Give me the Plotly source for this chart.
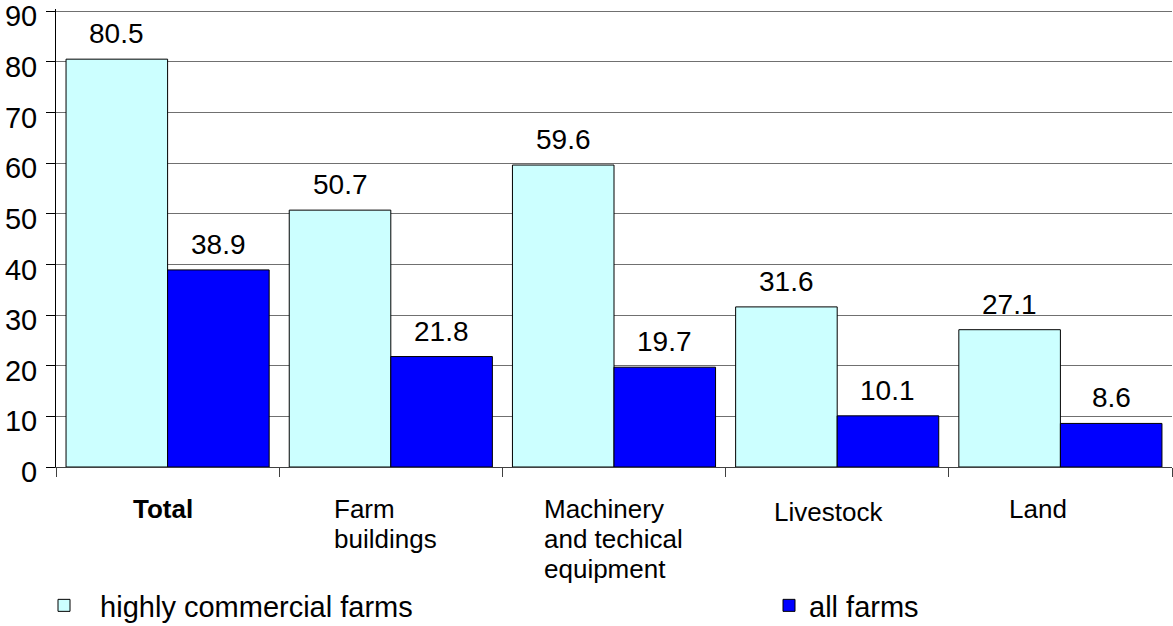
import plotly.graph_objects as go

categories = ["Total", "Farm buildings", "Machinery and techical equipment", "Livestock", "Land"]
cat_label_lines = [["<b>Total</b>"], ["Farm", "buildings"], ["Machinery", "and techical", "equipment"],
                   ["Livestock"], ["Land"]]
highly_commercial = [80.5, 50.7, 59.6, 31.6, 27.1]
all_farms = [38.9, 21.8, 19.7, 10.1, 8.6]
y_ticks = [0, 10, 20, 30, 40, 50, 60, 70, 80, 90]

FONT = "Liberation Sans, Arial, sans-serif"
W, H = 1173, 626
L, R, T, B = 56, 1, 9, 159

fig = go.Figure()
fig.add_trace(go.Bar(
    x=categories, y=highly_commercial, name="\u00a0\u00a0highly commercial farms",
    marker=dict(color="#CCFFFF", line=dict(color="black", width=1)),
    legend="legend",
))
fig.add_trace(go.Bar(
    x=categories, y=all_farms, name="all farms",
    marker=dict(color="#0000FF", line=dict(color="black", width=1)),
    legend="legend2",
))

# value labels
plot_w = W - L - R
cat_w = plot_w / len(categories)
bargap = 0.09
bar_w = cat_w * (1 - bargap) / 2
annotations = []
for series, sign in ((highly_commercial, -1), (all_farms, 1)):
    for c, v in zip(categories, series):
        annotations.append(dict(x=c, y=v, xref="x", yref="y", text=f"{v}", showarrow=False,
                                xanchor="center", yanchor="bottom", xshift=sign * bar_w / 2, yshift=8,
                                font=dict(family=FONT, size=28, color="black")))

# category labels (left-aligned blocks under each category)
cat_xshift = [-37, -59, -72, -65, -53]
cat_ytop = [-25, -25, -25, -28, -25]
LINE = 30
for c, lines, xs, ys in zip(categories, cat_label_lines, cat_xshift, cat_ytop):
    for i, ln in enumerate(lines):
        annotations.append(dict(x=c, y=0, xref="x", yref="paper", text=ln, showarrow=False,
                                xanchor="left", yanchor="top", xshift=xs, yshift=ys - i * LINE,
                                font=dict(family=FONT, size=26, color="black")))

fig.update_layout(
    width=W, height=H,
    margin=dict(l=L, r=R, t=T, b=B, autoexpand=False),
    paper_bgcolor="white", plot_bgcolor="white",
    barmode="group", bargap=bargap, bargroupgap=0,
    font=dict(family=FONT, size=28, color="black"),
    annotations=annotations,
    showlegend=True,
    legend=dict(xref="container", yref="container", x=44 / W, y=1 - 580 / H,
                xanchor="left", yanchor="top", orientation="h",
                font=dict(family=FONT, size=29, color="black"), bgcolor="rgba(0,0,0,0)"),
    legend2=dict(xref="container", yref="container", x=769 / W, y=1 - 580 / H,
                 xanchor="left", yanchor="top", orientation="h",
                 font=dict(family=FONT, size=29, color="black"), bgcolor="rgba(0,0,0,0)"),
    xaxis=dict(
        type="category", showticklabels=False, tickson="boundaries",
        ticks="outside", ticklen=9, tickcolor="#404040", tickwidth=1,
        showline=True, linecolor="#404040", linewidth=1,
        showgrid=False, zeroline=False,
    ),
    yaxis=dict(
        range=[0, 90.4], tickvals=y_ticks, ticks="outside", ticklen=9,
        tickcolor="black", tickwidth=1, ticklabelstandoff=3, ticklabelshift=5,
        ticklabeloverflow="allow",
        showline=True, linecolor="black", linewidth=1,
        showgrid=True, gridcolor="#707070", gridwidth=1, zeroline=False,
        tickfont=dict(family=FONT, size=29, color="black"),
    ),
)

fig.write_html("out.html", config={"displayModeBar": False},
               post_script="document.body.style.margin='0';")
